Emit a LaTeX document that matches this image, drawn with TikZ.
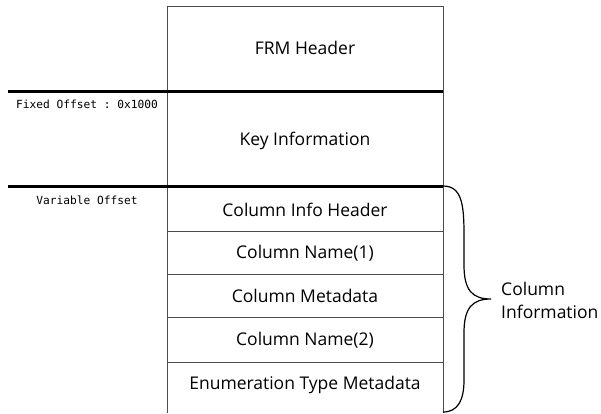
\documentclass[tikz,border=0pt]{standalone}
\usepackage{fontspec}
\setmainfont{Open Sans}
\setmonofont{DejaVu Sans Mono}
\begin{document}
\begin{tikzpicture}[x=1pt,y=-1pt,
  lbl/.style={font=\fontsize{17.5}{23}\selectfont, inner sep=0pt},
  mono/.style={font=\ttfamily\fontsize{11.2}{13}\selectfont, inner sep=0pt},
  thin/.style={draw=black!70, line width=0.8pt},
  thick/.style={draw=black, line width=3pt}]
\useasboundingbox (0,0) rectangle (601,413);
% box outline (open at bottom)
\draw[thin] (167,413) -- (167,6) -- (443,6) -- (443,413);
% row separators
\coordinate (r1l) at (167,231); \coordinate (r1r) at (443,231);
\coordinate (r2l) at (167,274); \coordinate (r2r) at (443,274);
\coordinate (r3l) at (167,317); \coordinate (r3r) at (443,317);
\coordinate (r4l) at (167,362); \coordinate (r4r) at (443,362);
\draw[thin] (r1l) -- (r1r);
\draw[thin] (r2l) -- (r2r);
\draw[thin] (r3l) -- (r3r);
\draw[thin] (r4l) -- (r4r);
% thick offset lines
\coordinate (f1) at (8,91); \coordinate (f2) at (443,91);
\coordinate (v1) at (8,186); \coordinate (v2) at (443,186);
\draw[thick] (f1) -- (f2);
\draw[thick] (v1) -- (v2);
% labels
\node[lbl] (frm) at (305,48) {FRM Header};
\node[lbl] (key) at (305,141) {Key Information};
\node[lbl] (cih) at (305,210) {Column Info Header};
\node[lbl] (cn1) at (305,253) {Column Name(1)};
\node[lbl] (cmd) at (305,296) {Column Metadata};
\node[lbl] (cn2) at (305,340) {Column Name(2)};
\node[lbl] (etm) at (305,385) {Enumeration Type Metadata};
\node[mono] (fo) at (87,104) {Fixed Offset : 0x1000};
\node[mono] (vo) at (87,200) {Variable Offset};
% brace
\coordinate (bt) at (443,186);
\coordinate (tip) at (491,299);
\coordinate (bb) at (443,412);
\draw[line width=1.2pt] (bt) .. controls (462,186) and (464,205) .. (464,235)
  -- (464,265) .. controls (464,290) and (472,299) .. (tip)
  .. controls (472,299) and (464,308) .. (464,333)
  -- (464,380) .. controls (464,400) and (458,412) .. (bb);
\node[lbl, anchor=west, align=left] (ci) at (501,300) {Column\\Information};
\end{tikzpicture}
\end{document}
